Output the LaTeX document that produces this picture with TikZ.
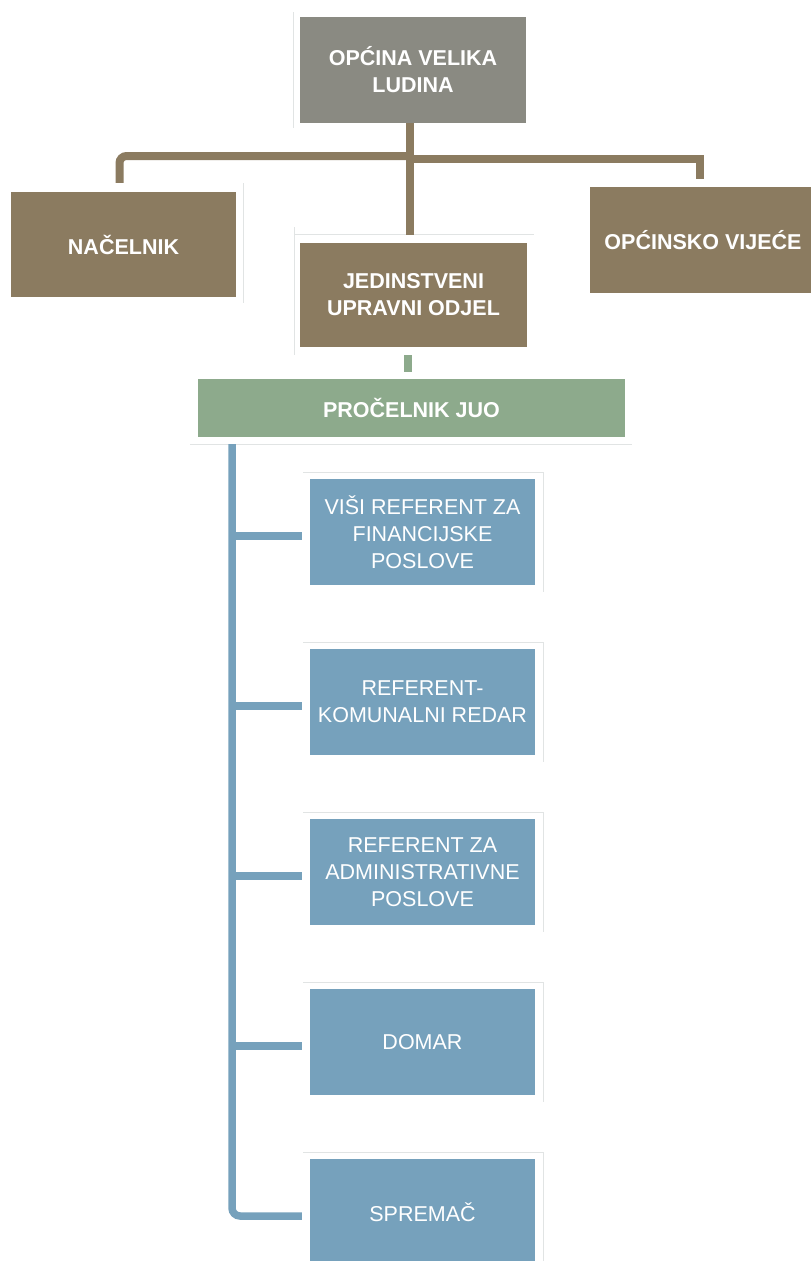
\documentclass[tikz,border=0pt]{standalone}
\usepackage{fontspec}
\setmainfont{Liberation Sans}
\definecolor{cgray}{RGB}{138,138,130}
\definecolor{cbrown}{RGB}{139,123,96}
\definecolor{cgreen}{RGB}{141,170,140}
\definecolor{cblue}{RGB}{118,161,188}
\definecolor{cfaint}{RGB}{225,228,228}
\begin{document}
\begin{tikzpicture}[x=1pt,y=-1pt,
  boldbox/.style={fill=#1, text=white, inner sep=0pt, align=center,
    font=\fontsize{21.5}{27}\selectfont\bfseries},
  plainbox/.style={fill=cblue, text=white, inner sep=0pt, align=center,
    minimum width=225pt, minimum height=106pt,
    font=\fontsize{21.5}{27}\selectfont},
  brownline/.style={draw=cbrown, line width=8pt},
  greenline/.style={draw=cgreen, line width=8pt},
  blueline/.style={draw=cblue, line width=7.5pt},
  faint/.style={draw=cfaint, line width=1pt}]
\useasboundingbox (0,0) rectangle (811,1261);

% faint frame lines
\draw[faint] (293,12) -- (293,128);
\draw[faint] (243,183) -- (243,303);
\draw[faint] (294,227) -- (294,355);
\draw[faint] (294,234) -- (534,234);
\draw[faint] (190,444) -- (632,444);
\foreach \t in {472,642,812,982,1152}{
  \draw[faint] (303,\t) -- (543,\t) -- (543,\t+120);
}

% boxes
\node[boldbox=cgray, minimum width=226pt, minimum height=106pt] (top) at (413,70) {OPĆINA VELIKA\\LUDINA};
\node[boldbox=cbrown, minimum width=225pt, minimum height=105pt] (nac) at (123.5,244.5) {NAČELNIK};
\node[boldbox=cbrown, minimum width=227pt, minimum height=104pt] (jed) at (413.5,295) {JEDINSTVENI\\UPRAVNI ODJEL};
\node[boldbox=cbrown, minimum width=226pt, minimum height=106pt] (opc) at (703,240) {OPĆINSKO VIJEĆE};
\node[boldbox=cgreen, minimum width=427pt, minimum height=58pt] (pro) at (411.5,408) {PROČELNIK JUO};

\node[plainbox] (b1) at (422.5,532) {VIŠI REFERENT ZA\\FINANCIJSKE\\POSLOVE};
\node[plainbox] (b2) at (422.5,702) {REFERENT-\\KOMUNALNI REDAR};
\node[plainbox] (b3) at (422.5,872) {REFERENT ZA\\ADMINISTRATIVNE\\POSLOVE};
\node[plainbox] (b4) at (422.5,1042) {DOMAR};
\node[plainbox] (b5) at (422.5,1212) {SPREMAČ};

% brown connectors
\coordinate (hl) at (410,156);
\coordinate (hr) at (410,159);
\draw[brownline, rounded corners=7pt] ([xshift=-4pt,yshift=9pt]nac.north) |- (hl);
\draw[brownline] (hr) -| ([xshift=-3pt,yshift=8pt]opc.north);
\draw[brownline] ([xshift=-3pt]top.south) -- ([xshift=-3.5pt,yshift=8pt]jed.north);

% green connector
\draw[greenline] ([xshift=-5.5pt,yshift=-8pt]jed.south) -- ([xshift=-3.5pt,yshift=7pt]pro.north);

% blue connectors
\coordinate (spine) at (232,444);
\draw[blueline, rounded corners=8pt] (spine) |- ([xshift=-8pt,yshift=-4pt]b5.west);
\foreach \b in {b1,b2,b3,b4}{
  \draw[blueline] ([yshift=-4pt]\b.west -| spine) -- ([xshift=-8pt,yshift=-4pt]\b.west);
}
\end{tikzpicture}
\end{document}
